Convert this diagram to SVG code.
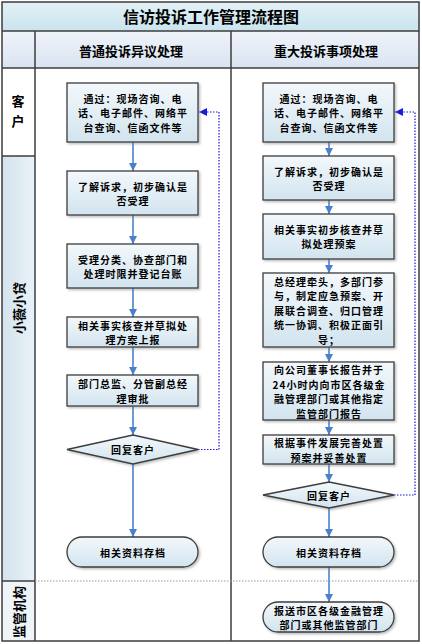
<svg xmlns="http://www.w3.org/2000/svg" width="422" height="644" viewBox="0 0 422 644">
<defs>
<linearGradient id="boxG" x1="0" y1="0" x2="0" y2="1"><stop offset="0" stop-color="#f3f8fb"/><stop offset="1" stop-color="#d2e4ef"/></linearGradient>
<linearGradient id="titleG" x1="0" y1="0" x2="0" y2="1"><stop offset="0" stop-color="#e2f1f6"/><stop offset="1" stop-color="#c9e4ee"/></linearGradient>
<linearGradient id="headG" x1="0" y1="0" x2="0" y2="1"><stop offset="0" stop-color="#f0f4fa"/><stop offset="1" stop-color="#d9e3f1"/></linearGradient>
<linearGradient id="laneG" x1="0" y1="0" x2="1" y2="0"><stop offset="0" stop-color="#d3e3ee"/><stop offset="1" stop-color="#eaf2f8"/></linearGradient>
<filter id="sh" x="-10%" y="-10%" width="130%" height="130%"><feDropShadow dx="1.5" dy="1.5" stdDeviation="0.8" flood-color="#777" flood-opacity="0.5"/></filter>
<marker id="ah" markerUnits="userSpaceOnUse" markerWidth="9" markerHeight="8" refX="8" refY="4" orient="auto"><path d="M0,0 L8,4 L0,8 z" fill="#4a7fcc"/></marker>
<marker id="dh" markerUnits="userSpaceOnUse" markerWidth="9" markerHeight="8" refX="8" refY="4" orient="auto"><path d="M0,0 L8,4 L0,8 z" fill="#1a1ad8"/></marker>
<style>
.box{fill:url(#boxG);stroke:#3c3c3c;stroke-width:1.3;filter:url(#sh)}
.t{font-family:"Noto Sans CJK SC","Liberation Sans",sans-serif;font-weight:700;font-size:10px;letter-spacing:1px;fill:#000;text-anchor:middle;dominant-baseline:central}
.lane{font-family:"Noto Sans CJK SC","Liberation Sans",sans-serif;font-weight:700;font-size:13px;fill:#000;text-anchor:middle;dominant-baseline:central}
.ar{stroke:#6f9bd8;stroke-width:2;fill:none;marker-end:url(#ah)}
.fb{stroke:#1a1ad8;stroke-width:1.2;stroke-dasharray:1.5 1.5;fill:none;marker-end:url(#dh)}
.grid{stroke:#3c3c3c;stroke-width:1.5;fill:none}
</style>
</defs>
<g id="frame">
<rect x="2" y="2" width="417" height="29" fill="url(#titleG)"/>
<rect x="2" y="31" width="33" height="37" fill="url(#headG)"/>
<rect x="35" y="31" width="196" height="37" fill="url(#headG)"/>
<rect x="231" y="31" width="188" height="37" fill="url(#headG)"/>
<rect x="2" y="68" width="33" height="88" fill="#ffffff"/>
<rect x="2" y="156" width="33" height="425" fill="url(#laneG)"/>
<rect x="2" y="581" width="33" height="60" fill="#eef4f8"/>
<rect x="35" y="68" width="384" height="573" fill="#ffffff"/>
<rect x="2" y="2" width="417" height="639" class="grid"/>
<line x1="2" y1="31" x2="419" y2="31" class="grid"/>
<line x1="2" y1="68" x2="419" y2="68" class="grid"/>
<line x1="35" y1="31" x2="35" y2="641" class="grid"/>
<line x1="231" y1="31" x2="231" y2="641" class="grid"/>
<line x1="2" y1="156" x2="35" y2="156" class="grid"/>
<line x1="2" y1="581" x2="35" y2="581" class="grid"/>
<line x1="35" y1="581" x2="419" y2="581" stroke="#999" stroke-width="1" stroke-dasharray="1.5 1.5"/>
<text x="211" y="16" class="lane" style="font-size:16px">信访投诉工作管理流程图</text>
<text x="131" y="50" class="lane">普通投诉异议处理</text>
<text x="326" y="50" class="lane">重大投诉事项处理</text>
<text x="18" y="100" class="lane">客</text>
<text x="18" y="120" class="lane">户</text>
<text transform="translate(18,308) rotate(-90)" class="lane">小薇小贷</text>
<text transform="translate(18,612) rotate(-90)" class="lane">监管机构</text>
</g>
<g id="connectors">
<line x1="133" y1="142" x2="133" y2="171" class="ar"/>
<line x1="133" y1="215" x2="133" y2="244" class="ar"/>
<line x1="133" y1="288" x2="133" y2="317" class="ar"/>
<line x1="133" y1="347" x2="133" y2="375" class="ar"/>
<line x1="133" y1="406" x2="133" y2="435" class="ar"/>
<line x1="133" y1="464" x2="133" y2="537" class="ar"/>
<line x1="329" y1="142" x2="329" y2="156" class="ar"/>
<line x1="329" y1="200" x2="329" y2="214" class="ar"/>
<line x1="329" y1="259" x2="329" y2="273" class="ar"/>
<line x1="329" y1="347" x2="329" y2="362" class="ar"/>
<line x1="329" y1="420" x2="329" y2="435" class="ar"/>
<line x1="329" y1="464" x2="329" y2="482" class="ar"/>
<line x1="329" y1="508" x2="329" y2="537" class="ar"/>
<line x1="329" y1="567" x2="329" y2="602" class="ar"/>
<polyline points="198,449.5 219,449.5 219,112 199,112" class="fb"/>
<polyline points="394,495 415,495 415,112 395,112" class="fb"/>
</g>
<g id="L1"><rect x="67" y="83" width="131" height="59" class="box"/>
<text class="t" x="133" y="98">通过：现场咨询、电</text><text class="t" x="133" y="112.5">话、电子邮件、网络平</text><text class="t" x="133" y="127">台查询、信函文件等</text></g>
<g id="L2"><rect x="67" y="171" width="131" height="44" class="box"/>
<text class="t" x="133" y="186">了解诉求，初步确认是</text><text class="t" x="133" y="200.5">否受理</text></g>
<g id="L3"><rect x="67" y="244" width="131" height="44" class="box"/>
<text class="t" x="133" y="259">受理分类、协查部门和</text><text class="t" x="133" y="273.5">处理时限并登记台账</text></g>
<g id="L4"><rect x="67" y="317" width="131" height="30" class="box"/>
<text class="t" x="133" y="325">相关事实核查并草拟处</text><text class="t" x="133" y="339.5">理方案上报</text></g>
<g id="L5"><rect x="67" y="375" width="131" height="31" class="box"/>
<text class="t" x="133" y="383.5">部门总监、分管副总经</text><text class="t" x="133" y="398">理审批</text></g>
<g id="L6"><polygon points="67,449.5 133,435 198,449.5 133,464" class="box"/>
<text class="t" x="133" y="449.5">回复客户</text></g>
<g id="L7"><rect x="67" y="537" width="131" height="30" rx="15" class="box"/>
<text class="t" x="133" y="552">相关资料存档</text></g>
<g id="R1"><rect x="263" y="83" width="131" height="59" class="box"/>
<text class="t" x="329" y="98">通过：现场咨询、电</text><text class="t" x="329" y="112.5">话、电子邮件、网络平</text><text class="t" x="329" y="127">台查询、信函文件等</text></g>
<g id="R2"><rect x="263" y="156" width="131" height="44" class="box"/>
<text class="t" x="329" y="171">了解诉求，初步确认是</text><text class="t" x="329" y="185.5">否受理</text></g>
<g id="R3"><rect x="263" y="214" width="131" height="45" class="box"/>
<text class="t" x="329" y="229">相关事实初步核查并草</text><text class="t" x="329" y="243.5">拟处理预案</text></g>
<g id="R4"><rect x="263" y="273" width="131" height="74" class="box"/>
<text class="t" x="329" y="281">总经理牵头，多部门参</text><text class="t" x="329" y="295.5">与，制定应急预案、开</text><text class="t" x="329" y="310">展联合调查、归口管理</text><text class="t" x="329" y="324.5">统一协调、积极正面引</text><text class="t" x="329" y="339">导；</text></g>
<g id="R5"><rect x="263" y="362" width="131" height="58" class="box"/>
<text class="t" x="329" y="369.5">向公司董事长报告并于</text><text class="t" x="329" y="384">24小时内向市区各级金</text><text class="t" x="329" y="398.5">融管理部门或其他指定</text><text class="t" x="329" y="413">监管部门报告</text></g>
<g id="R6"><rect x="263" y="435" width="131" height="29" class="box"/>
<text class="t" x="329" y="442.5">根据事件发展完善处置</text><text class="t" x="329" y="457">预案并妥善处置</text></g>
<g id="R7"><polygon points="263,495 329,482 394,495 329,508" class="box"/>
<text class="t" x="329" y="495">回复客户</text></g>
<g id="R8"><rect x="263" y="537" width="131" height="30" rx="15" class="box"/>
<text class="t" x="329" y="552">相关资料存档</text></g>
<g id="R9"><rect x="263" y="602" width="131" height="30" rx="15" class="box"/>
<text class="t" x="329" y="610">报送市区各级金融管理</text><text class="t" x="329" y="624.5">部门或其他监管部门</text></g>
</svg>
